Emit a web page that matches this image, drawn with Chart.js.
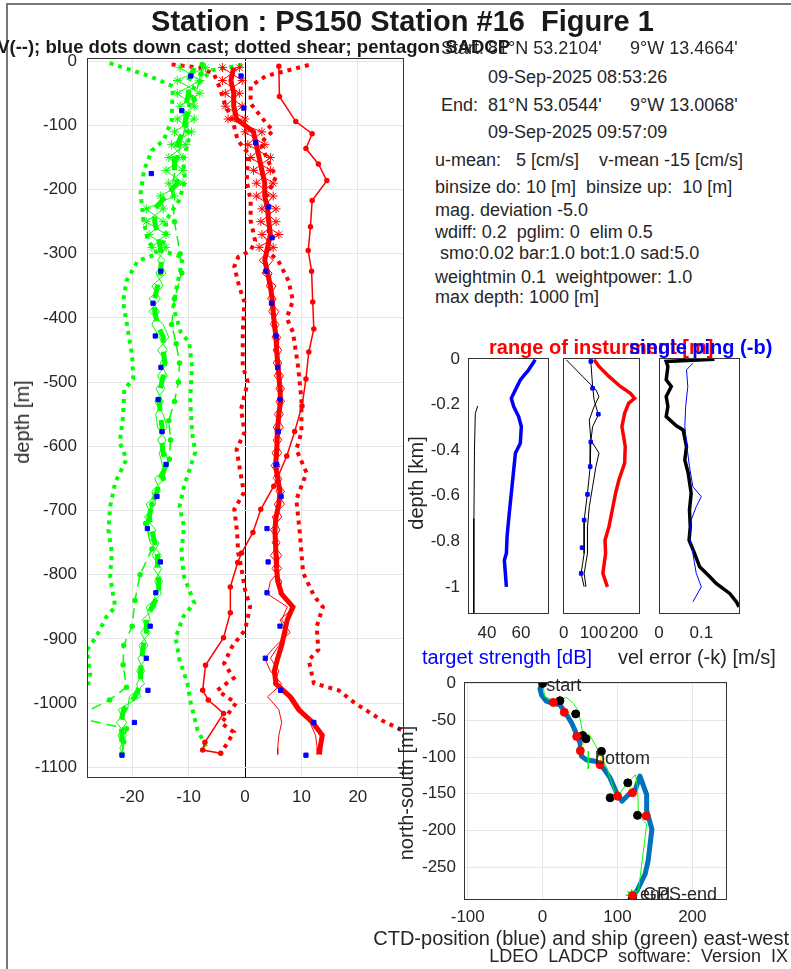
<!DOCTYPE html>
<html>
<head>
<meta charset="utf-8">
<script src="https://cdn.jsdelivr.net/npm/chart.js@4.4.1/dist/chart.umd.min.js"></script>
<style>
  body { margin: 0; background: #fff; }
  #fig { position: relative; width: 791px; height: 969px; overflow: hidden;
         font-family: 'Liberation Sans', Arial, Helvetica, sans-serif; color: #262626; }
  canvas { position: absolute; }
  .t { position: absolute; white-space: pre; font-size: 18px; line-height: 20px; }
  .rot { position: absolute; white-space: pre; font-size: 20px; line-height: 22px;
         transform: translate(-50%, -50%) rotate(-90deg); }
</style>
</head>
<body>
<div id="fig">
  <div style="position:absolute;left:6px;top:3px;width:800px;height:980px;border-left:2px solid #777;border-top:2px solid #777;"></div>

  <canvas id="main" width="395" height="779" style="left:20px;top:36px"></canvas>
  <canvas id="ts" width="135" height="319" style="left:420px;top:336px"></canvas>
  <canvas id="range" width="103" height="319" style="left:547px;top:336px"></canvas>
  <canvas id="err" width="107" height="319" style="left:643px;top:336px"></canvas>
  <canvas id="traj" width="345" height="274" style="left:395px;top:660px"></canvas>

  <!-- titles -->
  <div class="t" style="left:0;width:791px;top:5px;text-align:center;font-size:29px;line-height:32px;font-weight:bold;color:#1a1a1a;padding-left:14px;box-sizing:border-box">Station : PS150 Station #16  Figure 1</div>
  <div class="t" style="right:281px;top:37px;font-size:18.5px;font-weight:bold;color:#1a1a1a">U(-) V(--); blue dots down cast; dotted shear; pentagon SADCP</div>

  <!-- info block -->
  <div class="t" style="left:441px;top:38px">Start:</div>
  <div class="t" style="left:488px;top:38px">81°N 53.2104'</div>
  <div class="t" style="left:630px;top:38px">9°W 13.4664'</div>
  <div class="t" style="left:488px;top:67px">09-Sep-2025 08:53:26</div>
  <div class="t" style="left:441px;top:95px">End:</div>
  <div class="t" style="left:488px;top:95px">81°N 53.0544'</div>
  <div class="t" style="left:630px;top:95px">9°W 13.0068'</div>
  <div class="t" style="left:488px;top:122px">09-Sep-2025 09:57:09</div>
  <div class="t" style="left:435px;top:150px">u-mean:   5 [cm/s]    v-mean -15 [cm/s]</div>
  <div class="t" style="left:435px;top:177px">binsize do: 10 [m]  binsize up:  10 [m]</div>
  <div class="t" style="left:435px;top:200px">mag. deviation -5.0</div>
  <div class="t" style="left:435px;top:222px">wdiff: 0.2  pglim: 0  elim 0.5</div>
  <div class="t" style="left:435px;top:243px"> smo:0.02 bar:1.0 bot:1.0 sad:5.0</div>
  <div class="t" style="left:435px;top:267px">weightmin 0.1  weightpower: 1.0</div>
  <div class="t" style="left:435px;top:287px">max depth: 1000 [m]</div>

  <!-- axis titles -->
  <div class="rot" style="left:22px;top:422px">depth [m]</div>
  <div class="t" style="left:489px;top:336px;font-size:20px;line-height:22px;font-weight:bold;color:#ff0000">range of insturment [m]</div>
  <div class="t" style="left:629px;top:336px;font-size:20px;line-height:22px;font-weight:bold;color:#0000ff">single ping (-b)</div>
  <div class="rot" style="left:416px;top:483px">depth [km]</div>
  <div class="t" style="left:422px;top:646px;font-size:20px;line-height:22px;color:#0000ff">target strength [dB]</div>
  <div class="t" style="left:618px;top:646px;font-size:20px;line-height:22px">vel error (-k) [m/s]</div>
  <div class="rot" style="left:406px;top:793px">north-south [m]</div>
  <div class="t" style="right:2px;top:927px;font-size:20px;line-height:22px">CTD-position (blue) and ship (green) east-west</div>
  <div class="t" style="right:3px;top:946px;font-size:18px">LDEO  LADCP  software:  Version  IX</div>
</div>

<script>
// ---------------- main panel: velocity profiles (depth in m, velocity in cm/s)
const zGrid = [-10, -30, -50, -70, -90, -110, -130, -150, -170, -190, -210, -230, -250, -270, -290,
  -310, -330, -350, -370, -390, -410, -430, -450, -470, -490, -510, -530, -550, -570, -590,
  -610, -630, -650, -670, -690, -710, -730, -750, -770, -790, -810, -830, -850, -870, -890,
  -910, -930, -950, -970, -990, -1010, -1030, -1050, -1070, -1080];

const uMain = [-9, -10, -10, -10.5, -10.5, -11, -12, -12.5, -12.5, -12, -14, -16, -16, -15.5, -15,
  -14.8, -15, -15.5, -16, -16, -15.5, -14.5, -14.5, -14.2, -14.5, -15, -15.2, -15, -14.7, -14.8,
  -14.5, -14, -15, -15.6, -16.5, -17, -16.5, -16, -15.5, -15.5, -15.3, -15.3, -16.5, -17.5, -17.5,
  -18, -18.3, -18.5, -18.5, -19.5, -21.5, -22, -21.8, -21.8, -21.8];
const uEnsA = [-7, -12, -8, -11.5, -9, -12.5, -10.5, -13.5, -11, -13.5, -12.5, -17.5, -14.5, -17, -14,
  -15.5, -14, -16.5, -15, -17, -14.5, -13.5, -15.5, -13.8, -15.5, -14.2, -16, -14.5, -13.8, -15.5,
  -14, -13.5, -16, -15, -17.5, -16.5, -17.5, -15.2, -16.5, -14.8, -16, -14.8, -17.5, -16.8, -18.5,
  -17.2, -19, -17.8, -19.2, -18.5, -22.5, -21, -22.5, -21.5, -22];
const uEnsB = [-11.5, -8, -12, -9, -12, -9.5, -13, -11, -14, -11, -15, -14.5, -17.5, -14, -16.5,
  -14.2, -15.8, -14.5, -17, -15.2, -16.5, -15.2, -13.8, -15, -13.8, -15.8, -14.5, -15.8, -15.5, -14,
  -15.2, -14.6, -14.2, -16.5, -15.8, -17.8, -15.8, -16.8, -14.8, -16.2, -14.6, -16, -15.8, -18.2, -16.8,
  -18.8, -17.5, -19.2, -17.8, -20.5, -20.8, -22.8, -21, -22.2, -21.5];

const vMain = [-2, -2.5, -2, -2, -1.5, 1.5, 2, 2.5, 3, 3.5, 3.5, 4, 4.2, 4.5, 4,
  3.5, 4, 4.5, 4.8, 5, 5.2, 5.5, 5.6, 5.8, 6, 6.2, 6.3, 6, 5.8, 5.7,
  5.6, 5.4, 5.8, 6.2, 6, 5.5, 5.3, 5.4, 5.5, 5.6, 5.8, 6.5, 8.5, 7.5, 7,
  6.5, 5.8, 5.2, 5.5, 8, 9.5, 12, 13.7, 13.3, 13.2];
const vEnsA = [-4, -0.5, -3.5, -0.5, -3, 3, 0.5, 4.5, 1.5, 5, 2, 5.5, 2.8, 6, 2.5,
  5, 3, 5.5, 4, 6, 4.5, 6.3, 5, 6.5, 5.2, 7, 5.5, 6.8, 5, 6.5,
  4.8, 6.2, 5, 7, 5.2, 6.5, 4.5, 6.2, 4.5, 6.5, 4.5, 4, 7.5, 6.5, 8,
  5.5, 3.5, 4.5, 6.5, 4, 6, 6.5, 6, 5.8, 5.8];
const vEnsB = [-1, -4, -1, -3.5, 0, 0, 3.5, 1, 4.5, 2, 5, 3, 5.5, 3, 5,
  2.5, 4.8, 3.8, 5.5, 4.2, 6, 4.8, 6.5, 5, 6.8, 5.5, 7, 5.2, 6.8, 5,
  6.5, 4.6, 6.5, 5.5, 7, 4.8, 6.2, 4.8, 6.5, 4.8, 6.5, 6, 8.8, 6.2, 7.5,
  6, 4.5, 6, 5, 8.5, 10, 11.5, 12.5, 12.8, 12.8];

const vRefZ = [-8, -55, -94, -113, -136, -160, -186, -217, -258, -295, -327, -375, -417, -453, -495, -537,
  -577, -615, -662, -698, -734, -766, -781, -819, -859, -898, -941, -980, -995, -1016, -1061, -1073, -1078];
const vRef = [6, 6.1, 9, 11.9, 10.8, 13, 14.5, 11.9, 11.6, 11.2, 11.8, 12, 12.2, 11.3, 10.8, 10.1,
  8.8, 7.4, 5.1, 2.8, 1.4, -0.6, -1.3, -2.6, -2.6, -3.8, -7, -7.5, -6.5, -3.8, -7.1, -7.5, -4.3];
const uRefZ = [-5, -20, -60, -100, -150, -200, -250, -300, -330, -370, -410, -440, -470, -500, -530, -560,
  -590, -620, -650, -690, -720, -760, -800, -840, -880, -910, -940, -975, -995, -1015, -1025, -1040, -1060, -1080];
const uRef = [-7.6, -7.8, -9, -10.5, -12, -13, -12.5, -11.5, -11.2, -12.5, -13, -12.2, -11.6, -11.8, -12.5, -13.5,
  -13.2, -13.4, -14.5, -16.5, -17.6, -16.5, -18.6, -19.5, -20, -21.5, -21.6, -21, -24, -28.5, -28.5, -21, -21.5, -21.8];

const uShearLZ = [-3, -23, -39, -92, -123, -139, -170, -206, -248, -280, -300, -311, -342, -375, -422, -459, -495,
  -511, -553, -594, -620, -656, -694, -730, -766, -803, -850, -866, -897, -917, -959, -1000, -1073];
const uShearL = [-24, -17, -12.8, -13, -14.4, -16.5, -17.9, -18.5, -18, -17.2, -15.5, -19, -21, -21.6, -20.7, -20, -19.8,
  -21.4, -21.6, -22.2, -21, -23, -23.9, -24.2, -23.6, -23.9, -23, -24.6, -26.4, -28, -27.4, -29, -28.5];
const uShearRZ = [-6, -14, -39, -92, -123, -155, -186, -217, -248, -269, -295, -305, -352, -383, -422, -438, -475,
  -527, -578, -609, -662, -694, -725, -766, -803, -844, -866, -898, -933, -969, -1000, -1042, -1073];
const uShearR = [-0.5, -5.8, -9, -10.6, -10, -11, -10.6, -11.7, -14, -14, -14.9, -11, -12.1, -12.7, -11.4, -9.9, -9.4,
  -9.7, -9.4, -8.8, -10.8, -11.6, -10.8, -11.3, -10.8, -9, -11, -12.3, -11.6, -10.2, -9.6, -8.4, -6.6];
const vShearLZ = [-5, -10, -20, -39, -70, -92, -123, -144, -186, -217, -248, -280, -295, -305, -320, -352, -375,
  -422, -475, -500, -542, -578, -605, -641, -672, -698, -734, -766, -787, -823, -850, -886, -912, -938, -961,
  -980, -1000, -1031, -1045, -1062, -1077];
const vShearL = [-13, -8, -5.5, -4.6, -3.4, -2.2, -1.3, 0.6, 0.3, 1, 1, 1.8, 1, -1.2, -1.9, -1, -0.1,
  -0.4, -0.4, 0.5, -0.7, -0.1, -1.5, -0.8, -0.2, -1.9, -1.4, -1.2, -0.7, 0, 0.9, 0, -2.3, -3.7, -2,
  -4.9, -1.6, -4.2, -2, -3.1, -4.3];
const vShearRZ = [-6, -23, -39, -66, -97, -108, -128, -159, -180, -211, -248, -289, -300, -311, -342, -373, -400,
  -422, -475, -527, -578, -605, -641, -683, -734, -766, -797, -834, -850, -881, -917, -933, -969, -980, -1000,
  -1027, -1045];
const vShearR = [11.3, 3.7, 1, 1, 3.8, 5, 2.7, 4.3, 5.5, 3.8, 4.3, 4.1, 4.5, 5.9, 7.7, 8.5, 7.4,
  8.5, 9.4, 10, 10, 9.1, 10.9, 9.1, 9.7, 10, 10.3, 12.3, 13.8, 12.7, 13, 11.3, 12.2, 16.6, 19.5,
  24.3, 28.5];

const uDownZ = [-23, -77, -175, -327, -377, -428, -477, -527, -577, -628, -678, -728, -780, -828, -880, -930, -980, -1030, -1081];
const uDown = [-9.6, -11.2, -16.6, -14.9, -16.3, -15.9, -14.9, -15.4, -14.7, -14, -15.6, -17.3, -15, -15.8, -16.8, -17.5, -17.2, -19.6, -21.8];
const vDownZ = [-23, -73, -127, -227, -275, -327, -377, -428, -477, -527, -577, -628, -678, -728, -780, -828, -880, -930, -980, -1030, -1081];
const vDown = [-0.7, -0.2, 1.9, 4.2, 4.8, 3.7, 4.7, 5.5, 5.8, 6.2, 5.9, 5.6, 6.4, 3.9, 4.1, 3.9, 6.2, 3.6, 6.3, 12.2, 10.8];

const mainXTicks = [-20, -10, 0, 10, 20];
const mainYTicks = [0, -100, -200, -300, -400, -500, -600, -700, -800, -900, -1000, -1100];

// ---------------- small panels (depth in km)
const tsZ = [-0.003, -0.047, -0.091, -0.135, -0.172, -0.208, -0.252, -0.296, -0.37, -0.413, -0.487, -0.56, -0.633, -0.707, -0.78, -0.853, -0.883, -0.941, -1.0];
const tsDb = [68.4, 64.5, 59.6, 56.7, 54.3, 55.7, 58.6, 60.2, 59.6, 56.7, 55.7, 54.7, 53.7, 52.7, 51.8, 51.4, 50.2, 50.8, 51.4];
const tsRefZ = [-0.205, -0.24, -0.4, -0.7, -1.117];
const tsRef = [34.5, 33.1, 32.6, 32.3, 32.2];

const rangeZ = [-0.003, -0.032, -0.076, -0.12, -0.15, -0.172, -0.194, -0.238, -0.296, -0.384, -0.457, -0.531, -0.589, -0.677, -0.736, -0.795, -0.853, -0.941, -1.0];
const rangeM = [101, 117, 150, 188, 221, 235, 215, 202, 193, 204, 202, 183, 172, 159, 150, 137, 139, 130, 145];
const upZ = [-0.003, -0.076, -0.135, -0.164, -0.208, -0.267, -0.355, -0.413, -0.472, -0.56, -0.648, -0.736, -0.853, -0.941, -1.0];
const upM = [9, 63, 107, 117, 101, 85, 90, 117, 107, 96, 85, 79, 79, 68, 74];
const downZ = [-0.01, -0.12, -0.179, -0.245, -0.296, -0.362, -0.472, -0.589, -0.707, -0.853, -0.941, -1.0];
const downM = [90, 96, 101, 115, 96, 90, 88, 79, 68, 68, 58, 68];
const downDotZ = [-0.01, -0.128, -0.242, -0.364, -0.472, -0.594, -0.707, -0.828, -0.941];
const downDotM = [90, 96, 115, 90, 88, 79, 68, 61, 58];

const errZ = [0, -0.01, -0.032, -0.091, -0.12, -0.164, -0.208, -0.252, -0.293, -0.311, -0.384, -0.443, -0.501, -0.589, -0.663, -0.736, -0.795, -0.853, -0.912, -0.956, -0.985, -1.029, -1.066, -1.088];
const errK = [0.131, 0.017, 0.021, 0.017, 0.029, 0.017, 0.021, 0.017, 0.041, 0.057, 0.065, 0.061, 0.069, 0.076, 0.072, 0.074, 0.071, 0.084, 0.096, 0.12, 0.135, 0.167, 0.183, 0.189];
const pingZ = [-0.018, -0.047, -0.12, -0.208, -0.296, -0.384, -0.472, -0.56, -0.604, -0.648, -0.707, -0.78, -0.853, -0.941, -1.0, -1.066];
const pingB = [0.08, 0.065, 0.068, 0.063, 0.061, 0.066, 0.072, 0.08, 0.1, 0.088, 0.076, 0.072, 0.08, 0.088, 0.1, 0.08];

const kmTicks = [0, -0.2, -0.4, -0.6, -0.8, -1];

// ---------------- trajectory (m)
const ctdX = [0, -3.6, -1.3, 5, 14, 23, 30, 39, 46, 50, 52, 59, 72, 81, 90, 99, 106, 117, 124, 130, 139, 139, 146, 141, 137, 126, 119];
const ctdY = [0, -7, -16, -24, -27, -29, -39, -54, -70, -81, -99, -104, -106, -115, -128, -149, -160, -149, -144, -126, -151, -173, -198, -241, -259, -282, -290];
const shipX = [0, 3, 19, 32, 41, 48, 54, 63, 75, 86, 95, 99, 112, 124, 127, 128, 139, 138, 133, 128, 119];
const shipY = [0, -18, -25, -19, -27, -38, -69, -70, -92, -115, -144, -155, -137, -124, -142, -180, -191, -200, -241, -282, -288];
const shipDotX = [23.2, 44.2, 53.6, 58, 78.6, 90.2, 113.8, 126.8, 120.1];
const shipDotY = [-23.4, -41.4, -70.7, -75.2, -92.3, -155.4, -135.1, -179.3, -292];
const ctdDotX = [14.3, 29, 45.5, 50.4, 76.8, 100, 120.1, 138.4, 120.1];
const ctdDotY = [-25.7, -39.2, -72.1, -91.4, -110.4, -153.2, -148.6, -180.2, -288.3];
const trajLabels = ['start', 'bottom', 'end', 'GPS-end'];
const trajLabelX = [5, 70, 130, 134];
const trajLabelY = [-4, -103, -288, -288];
const trajXTicks = [-100, 0, 100, 200];
const trajYTicks = [0, -50, -100, -150, -200, -250];

const GREEN = '#00ff00', RED = '#ff0000', BLUE = '#0000ff', INK = '#262626';

Chart.defaults.font.family = "'Liberation Sans', Arial, Helvetica, sans-serif";
Chart.defaults.font.size = 17;
Chart.defaults.color = INK;

function pts(xs, ys) {
  return xs.map((x, i) => ({ x: x, y: ys[i] }));
}

// box around the axes, like matlab "box on"
const framePlugin = {
  id: 'frame',
  afterDatasetsDraw(chart) {
    const a = chart.chartArea;
    const ctx = chart.ctx;
    ctx.save();
    ctx.strokeStyle = '#333';
    ctx.lineWidth = 1;
    ctx.strokeRect(Math.round(a.left) + 0.5, Math.round(a.top) + 0.5, Math.round(a.right - a.left), Math.round(a.bottom - a.top));
    ctx.restore();
  }
};

function fixedTicks(list) {
  return scale => { scale.ticks = list.map(v => ({ value: v })); };
}

function axis(min, max, ticks, size, opts) {
  const horizontal = opts.horizontal;
  return Object.assign({
    type: 'linear',
    min: min,
    max: max,
    afterBuildTicks: fixedTicks(ticks),
    afterFit: s => { if (horizontal) s.height = size; else s.width = size; },
    grid: { display: !!opts.grid, drawTicks: false, color: opts.gridColor || '#e6e6e6', lineWidth: 1 },
    border: { display: false },
    ticks: {
      padding: opts.pad || 8,
      autoSkip: false,
      minRotation: 0,
      maxRotation: 0,
      callback: v => String(+Number(v).toFixed(3))
    }
  }, opts.extra || {});
}

function baseOptions(pad, scales, plugins) {
  return {
    responsive: false,
    animation: false,
    devicePixelRatio: 1,
    layout: { padding: pad },
    plugins: Object.assign({ legend: { display: false }, tooltip: { enabled: false } }, plugins || {}),
    elements: { line: { tension: 0 } },
    scales: scales
  };
}

function line(data, color, width, extra) {
  return Object.assign({
    data: data,
    showLine: true,
    borderColor: color,
    backgroundColor: color,
    borderWidth: width,
    pointRadius: 0
  }, extra || {});
}

function dots(data, color, style, radius, extra) {
  return Object.assign({
    data: data,
    showLine: false,
    pointStyle: style,
    pointRadius: radius,
    borderColor: color,
    backgroundColor: color,
    borderWidth: 1
  }, extra || {});
}

const upperStars = ctx => (ctx.raw && ctx.raw.y > -305 ? 4.5 : 0);
const dotted = { borderDash: [4, 5], borderCapStyle: 'butt' };

// ---- main profile chart
new Chart(document.getElementById('main'), {
  type: 'scatter',
  data: {
    datasets: [
      dots(pts(uDown, uDownZ), BLUE, 'rect', 3),
      dots(pts(vDown, vDownZ), BLUE, 'rect', 3),
      line(pts(vMain, zGrid), RED, 5),
      line(pts(uMain, zGrid), GREEN, 5, { borderDash: [14, 9] }),
      line(pts(vEnsA, zGrid), RED, 1, { pointStyle: 'star', pointRadius: upperStars, borderWidth: 1 }),
      line(pts(vEnsB, zGrid), RED, 1, { pointStyle: 'star', pointRadius: upperStars, borderWidth: 1 }),
      line(pts(uEnsA, zGrid), GREEN, 1, { pointStyle: 'star', pointRadius: upperStars, borderWidth: 1 }),
      line(pts(uEnsB, zGrid), GREEN, 1, { pointStyle: 'star', pointRadius: upperStars, borderWidth: 1 }),
      line(pts(vRef, vRefZ), RED, 1.5, { pointRadius: 2 }),
      line(pts(uRef, uRefZ), GREEN, 1.5, { pointRadius: 2, borderDash: [10, 6] }),
      line(pts(uShearL, uShearLZ), GREEN, 4, dotted),
      line(pts(uShearR, uShearRZ), GREEN, 4, dotted),
      line(pts(vShearL, vShearLZ), RED, 4, dotted),
      line(pts(vShearR, vShearRZ), RED, 4, dotted)
    ]
  },
  options: baseOptions({ top: 22, right: 12, left: 0, bottom: 0 }, {
    x: axis(-28, 28, mainXTicks, 38, {
      horizontal: true, grid: true, pad: 10,
      gridColor: ctx => (ctx.tick && ctx.tick.value === 0 ? '#000' : '#e6e6e6')
    }),
    y: axis(-1115, 5, mainYTicks, 67, { grid: true, pad: 10 })
  }),
  plugins: [framePlugin]
});

// ---- target strength
new Chart(document.getElementById('ts'), {
  type: 'scatter',
  data: {
    datasets: [
      line(pts(tsDb, tsZ), BLUE, 3.5),
      line(pts(tsRef, tsRefZ), '#000', 1)
    ]
  },
  options: baseOptions({ top: 22, right: 7, left: 0, bottom: 0 }, {
    x: axis(28.8, 75.9, [40, 60], 42, { horizontal: true, pad: 10 }),
    y: axis(-1.115, 0.005, kmTicks, 48, { pad: 8 })
  }),
  plugins: [framePlugin]
});

// ---- range of instrument
new Chart(document.getElementById('range'), {
  type: 'scatter',
  data: {
    datasets: [
      dots(pts(downDotM, downDotZ), BLUE, 'rect', 2.5),
      line(pts(downM, downZ), '#000', 1),
      line(pts(upM, upZ), '#000', 1),
      line(pts(rangeM, rangeZ), RED, 3.5)
    ]
  },
  options: baseOptions({ top: 22, right: 9, left: 16, bottom: 0 }, {
    x: axis(-2, 250, [0, 100, 200], 42, { horizontal: true, pad: 10 }),
    y: axis(-1.115, 0.005, kmTicks, 0, { extra: { display: false } })
  }),
  plugins: [framePlugin]
});

// ---- velocity error
new Chart(document.getElementById('err'), {
  type: 'scatter',
  data: {
    datasets: [
      line(pts(pingB, pingZ), BLUE, 1),
      line(pts(errK, errZ), '#000', 3.5)
    ]
  },
  options: baseOptions({ top: 22, right: 11, left: 16, bottom: 0 }, {
    x: axis(0, 0.189, [0, 0.1], 42, { horizontal: true, pad: 10 }),
    y: axis(-1.115, 0.005, kmTicks, 0, { extra: { display: false } })
  }),
  plugins: [framePlugin]
});

// ---- CTD / ship track
const pairs = [];
shipDotX.forEach((x, i) => {
  pairs.push({ x: x, y: shipDotY[i] }, { x: ctdDotX[i], y: ctdDotY[i] }, { x: null, y: null });
});

const trajText = {
  id: 'trajText',
  afterDatasetsDraw(chart) {
    const ctx = chart.ctx, sx = chart.scales.x, sy = chart.scales.y;
    ctx.save();
    ctx.font = "18px 'Liberation Sans', Arial, sans-serif";
    ctx.fillStyle = INK;
    ctx.textBaseline = 'middle';
    trajLabels.forEach((t, i) => {
      ctx.fillText(t, sx.getPixelForValue(trajLabelX[i]), sy.getPixelForValue(trajLabelY[i]));
    });
    ctx.restore();
  }
};

new Chart(document.getElementById('traj'), {
  type: 'scatter',
  data: {
    datasets: [
      dots(pts(ctdDotX, ctdDotY), RED, 'circle', 4),
      dots(pts(shipDotX, shipDotY).concat([{ x: 0, y: 0 }]), '#000', 'circle', 4),
      line(pairs, '#ffff00', 1.5, { spanGaps: false }),
      dots([{ x: 61, y: -104 }], GREEN, 'line', 9, { rotation: 90, borderWidth: 1.5 }),
      dots([{ x: shipX[shipX.length - 1], y: shipY[shipY.length - 1] }], GREEN, 'star', 6, { borderWidth: 1.5 }),
      line(pts(shipX, shipY), GREEN, 1),
      line(pts(ctdX, ctdY), '#0072BD', 5, { borderJoinStyle: 'round', borderCapStyle: 'round' })
    ]
  },
  options: baseOptions({ top: 22, right: 14, left: 0, bottom: 0 }, {
    x: axis(-105, 245, trajXTicks, 35, { horizontal: true, grid: true, pad: 8 }),
    y: axis(-293, 2, trajYTicks, 69, { grid: true, pad: 8 })
  }),
  plugins: [framePlugin, trajText]
});
</script>
</body>
</html>
